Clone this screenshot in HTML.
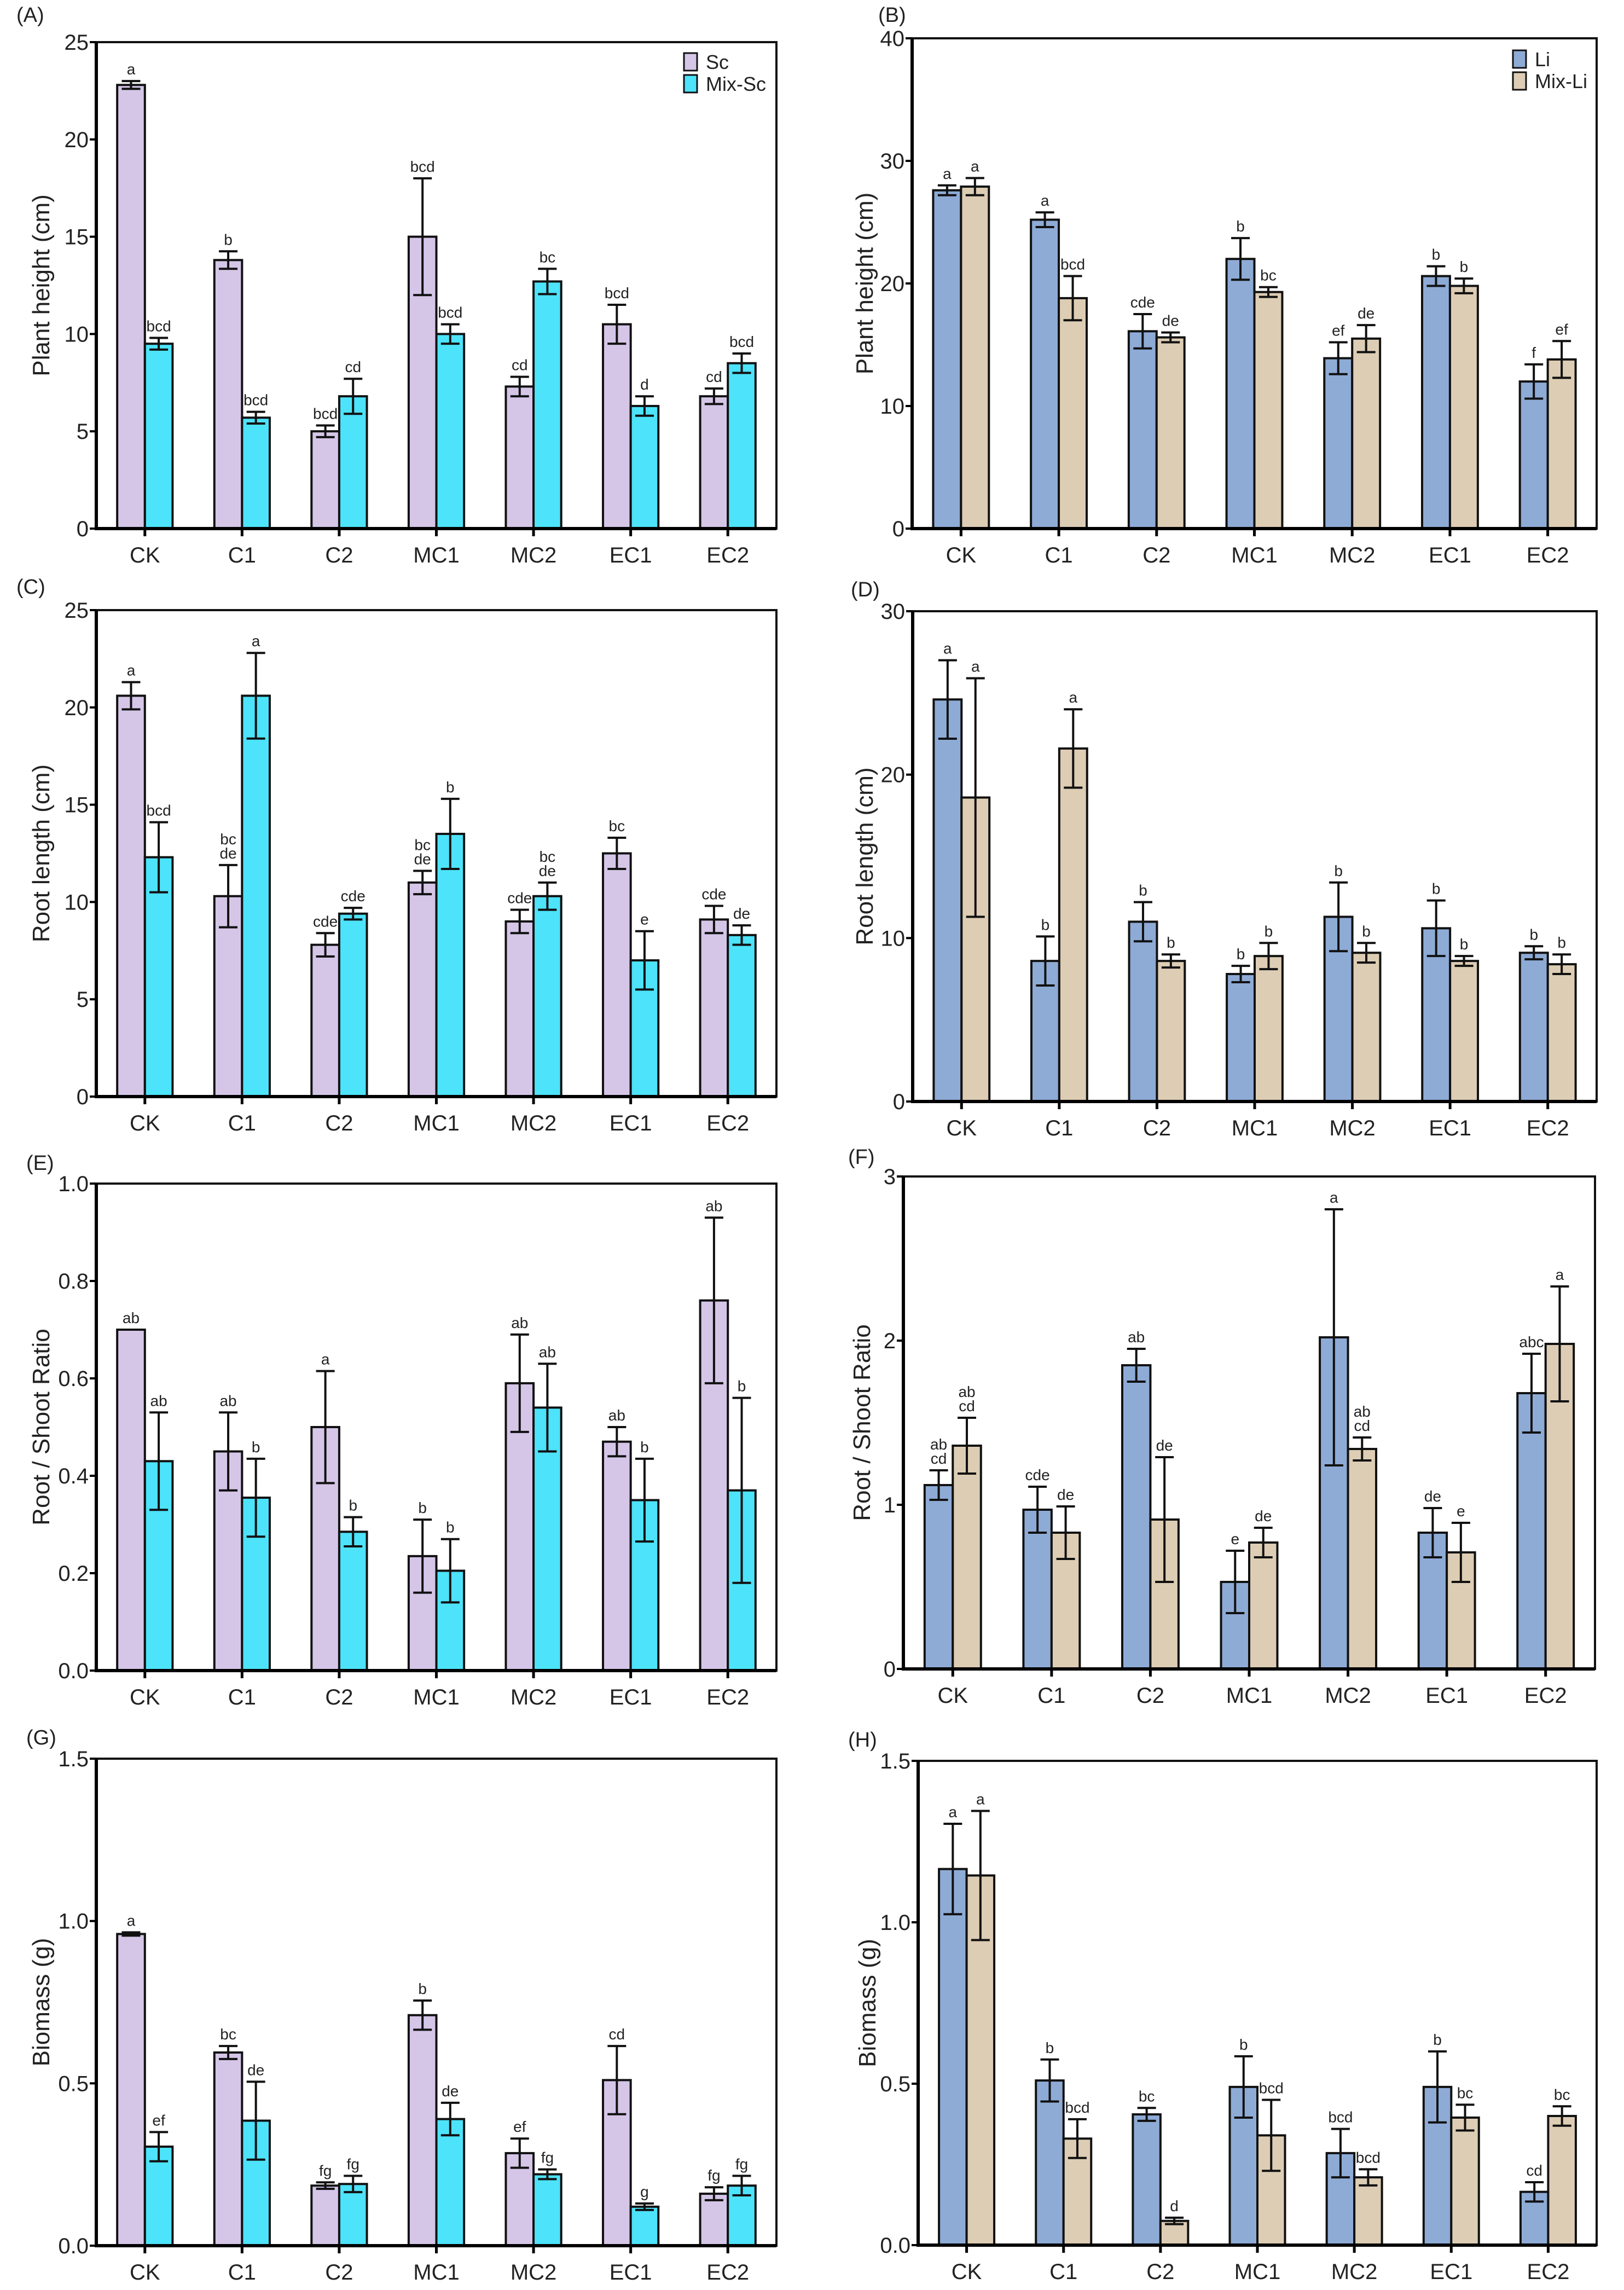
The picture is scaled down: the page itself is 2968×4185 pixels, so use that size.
<!DOCTYPE html>
<html><head><meta charset="utf-8">
<style>
html,body{margin:0;padding:0;background:#fff;}
svg{display:block;font-family:"Liberation Sans",Arial,sans-serif;}
</style></head>
<body>
<svg id="fig" width="2968" height="4185" viewBox="0 0 2968 4185" xmlns="http://www.w3.org/2000/svg"></svg>
<script>
const categories = ["CK","C1","C2","MC1","MC2","EC1","EC2"];

// (A) plant height Sc
const aSc = [22.8,13.8,5.0,15.0,7.3,10.5,6.8];
const aScErr = [0.2,0.45,0.3,3.0,0.5,1.0,0.4];
const aScLet = ["a","b","bcd","bcd","cd","bcd","cd"];
const aMix = [9.5,5.7,6.8,10.0,12.7,6.3,8.5];
const aMixErr = [0.3,0.3,0.9,0.5,0.65,0.5,0.5];
const aMixLet = ["bcd","bcd","cd","bcd","bc","d","bcd"];
const aTicks = [0,5,10,15,20,25];

// (B) plant height Li
const bLi = [27.6,25.2,16.1,22.0,13.9,20.6,12.0];
const bLiErr = [0.4,0.6,1.4,1.7,1.3,0.8,1.4];
const bLiLet = ["a","a","cde","b","ef","b","f"];
const bMix = [27.9,18.8,15.6,19.3,15.5,19.8,13.8];
const bMixErr = [0.7,1.8,0.4,0.4,1.1,0.6,1.5];
const bMixLet = ["a","bcd","de","bc","de","b","ef"];
const bTicks = [0,10,20,30,40];

// (C) root length Sc
const cSc = [20.6,10.3,7.8,11.0,9.0,12.5,9.1];
const cScErr = [0.7,1.6,0.6,0.6,0.6,0.8,0.7];
const cScLet = ["a","bc|de","cde","bc|de","cde","bc","cde"];
const cMix = [12.3,20.6,9.4,13.5,10.3,7.0,8.3];
const cMixErr = [1.8,2.2,0.3,1.8,0.7,1.5,0.5];
const cMixLet = ["bcd","a","cde","b","bc|de","e","de"];
const cTicks = [0,5,10,15,20,25];

// (D) root length Li
const dLi = [24.6,8.6,11.0,7.8,11.3,10.6,9.1];
const dLiErr = [2.4,1.5,1.2,0.5,2.1,1.7,0.4];
const dLiLet = ["a","b","b","b","b","b","b"];
const dMix = [18.6,21.6,8.6,8.9,9.1,8.6,8.4];
const dMixErr = [7.3,2.4,0.4,0.8,0.6,0.3,0.6];
const dMixLet = ["a","a","b","b","b","b","b"];
const dTicks = [0,10,20,30];

// (E) root/shoot Sc
const eSc = [0.70,0.45,0.50,0.235,0.59,0.47,0.76];
const eScErr = [0.0,0.08,0.115,0.075,0.10,0.03,0.17];
const eScLet = ["ab","ab","a","b","ab","ab","ab"];
const eMix = [0.43,0.355,0.285,0.205,0.54,0.35,0.37];
const eMixErr = [0.10,0.08,0.03,0.065,0.09,0.085,0.19];
const eMixLet = ["ab","b","b","b","ab","b","b"];
const eTicks = [0,0.2,0.4,0.6,0.8,1.0];

// (F) root/shoot Li
const fLi = [1.12,0.97,1.85,0.53,2.02,0.83,1.68];
const fLiErr = [0.09,0.14,0.10,0.19,0.78,0.15,0.24];
const fLiLet = ["ab|cd","cde","ab","e","a","de","abc"];
const fMix = [1.36,0.83,0.91,0.77,1.34,0.71,1.98];
const fMixErr = [0.17,0.16,0.38,0.09,0.07,0.18,0.35];
const fMixLet = ["ab|cd","de","de","de","ab|cd","e","a"];
const fTicks = [0,1,2,3];

// (G) biomass Sc
const gSc = [0.96,0.595,0.185,0.71,0.285,0.51,0.16];
const gScErr = [0.005,0.02,0.01,0.045,0.045,0.105,0.02];
const gScLet = ["a","bc","fg","b","ef","cd","fg"];
const gMix = [0.305,0.385,0.19,0.39,0.22,0.12,0.185];
const gMixErr = [0.045,0.12,0.025,0.05,0.015,0.01,0.03];
const gMixLet = ["ef","de","fg","de","fg","g","fg"];
const gTicks = [0,0.5,1.0,1.5];

// (H) biomass Li
const hLi = [1.165,0.51,0.405,0.49,0.285,0.49,0.165];
const hLiErr = [0.14,0.065,0.02,0.095,0.075,0.11,0.03];
const hLiLet = ["a","b","bc","b","bcd","b","cd"];
const hMix = [1.145,0.33,0.075,0.34,0.21,0.395,0.40];
const hMixErr = [0.2,0.06,0.01,0.11,0.025,0.04,0.03];
const hMixLet = ["a","bcd","d","bcd","bcd","bc","bc"];
const hTicks = [0,0.5,1.0,1.5];

const NS = "http://www.w3.org/2000/svg";
const svg = document.getElementById("fig");
function mk(tag, attrs, parent){
  const e = document.createElementNS(NS, tag);
  for (const k in attrs) e.setAttribute(k, attrs[k]);
  (parent||svg).appendChild(e);
  return e;
}
const SC1="#d5c6e8", SC2="#4de3fa", LI1="#8eabd6", LI2="#ddcdb4";

function panel(cfg){
  const g = mk("g",{});
  
  
  const {x0,y0,x1,y1,max} = cfg;
  const ys = v => y1 - v/max*(y1-y0);
  const band = (x1-x0)/categories.length;
  const xc = i => x0 + (i+0.5)*band;
  const bw = band*0.285;

  const lab = mk("text",{x:cfg.lx,y:cfg.ly,"font-size":38,fill:"#222"},g);
  lab.textContent = "(" + cfg.id + ")";
  
  

  // bars
  const series = [[cfg.v1,cfg.e1,cfg.l1,cfg.c1,-1],[cfg.v2,cfg.e2,cfg.l2,cfg.c2,0]];
  series.forEach((s,si)=>{
    s[0].forEach((v,i)=>{
      const bx = xc(i) + s[4]*bw;
      const r = mk("rect",{x:bx,y:ys(v),width:bw,height:y1-ys(v),fill:s[3],stroke:"#111","stroke-width":4},g);
      
      
      const cx = bx + bw/2;
      const top = ys(v + s[1][i]), bot = ys(Math.max(0, v - s[1][i]));
      const eb = mk("path",{d:`M${cx},${top}V${bot}M${cx-17},${top}H${cx+17}M${cx-17},${bot}H${cx+17}`,stroke:"#111","stroke-width":4,fill:"none"},g);
      
      
      const lines = s[2][i].split("|");
      lines.forEach((ln,k)=>{
        const t = mk("text",{x:cx,y:top-12-(lines.length-1-k)*26,"font-size":28,"text-anchor":"middle",fill:"#222"},g);
        t.textContent = ln;
        
        
      });
    });
  });

  // frame
  const fr = mk("rect",{x:x0,y:y0,width:x1-x0,height:y1-y0,fill:"none",stroke:"#111","stroke-width":4},g);
  
  
  const ax = mk("path",{d:`M${x0},${y0}V${y1}H${x1}`,stroke:"#000","stroke-width":6,fill:"none"},g);
  
  

  // y ticks
  cfg.ticks.forEach(t=>{
    const y = ys(t);
    mk("line",{x1:x0-12,x2:x0,y1:y,y2:y,stroke:"#000","stroke-width":4},g);
    const tl = mk("text",{x:x0-14,y:y+14,"font-size":40,"text-anchor":"end",fill:"#222"},g);
    tl.textContent = cfg.dec ? t.toFixed(cfg.dec) : String(t);
    
    
  });
  // x ticks
  categories.forEach((c,i)=>{
    mk("line",{x1:xc(i),x2:xc(i),y1:y1,y2:y1+14,stroke:"#000","stroke-width":5},g);
    const tl = mk("text",{x:xc(i),y:y1+62,"font-size":40,"text-anchor":"middle",fill:"#222"},g);
    tl.textContent = c;
    
    
  });
  // y title
  const yt = mk("text",{x:cfg.tx,y:(y0+y1)/2,"font-size":44,"text-anchor":"middle",fill:"#222",transform:`rotate(-90 ${cfg.tx} ${(y0+y1)/2})`},g);
  yt.textContent = cfg.title;
  
  

  // legend
  if (cfg.legend){
    const [lx,ly,n1,n2] = cfg.legend;
    [[n1,cfg.c1],[n2,cfg.c2]].forEach((l,k)=>{
      const r = mk("rect",{x:lx,y:ly+k*40-16,width:24,height:32,fill:l[1],stroke:"#111","stroke-width":3},g);
      
      
      const t = mk("text",{x:lx+40,y:ly+k*40+13,"font-size":36,fill:"#222"},g);
      t.textContent = l[0];
      
      
    });
  }
}

panel({id:"A",x0:176,y0:77,x1:1419,y1:966,max:25,ticks:aTicks,v1:aSc,e1:aScErr,l1:aScLet,v2:aMix,e2:aMixErr,l2:aMixLet,c1:SC1,c2:SC2,title:"Plant height (cm)",tx:90,lx:30,ly:40,legend:[1250,113,"Sc","Mix-Sc"]});
panel({id:"B",x0:1667,y0:70,x1:2918,y1:966,max:40,ticks:bTicks,v1:bLi,e1:bLiErr,l1:bLiLet,v2:bMix,e2:bMixErr,l2:bMixLet,c1:LI1,c2:LI2,title:"Plant height (cm)",tx:1595,lx:1605,ly:40,legend:[2765,108,"Li","Mix-Li"]});
panel({id:"C",x0:176,y0:1115,x1:1419,y1:2004,max:25,ticks:cTicks,v1:cSc,e1:cScErr,l1:cScLet,v2:cMix,e2:cMixErr,l2:cMixLet,c1:SC1,c2:SC2,title:"Root length (cm)",tx:90,lx:30,ly:1085});
panel({id:"D",x0:1668,y0:1117,x1:2918,y1:2013,max:30,ticks:dTicks,v1:dLi,e1:dLiErr,l1:dLiLet,v2:dMix,e2:dMixErr,l2:dMixLet,c1:LI1,c2:LI2,title:"Root length (cm)",tx:1595,lx:1555,ly:1090});
panel({id:"E",x0:176,y0:2163,x1:1419,y1:3053,max:1.0,dec:1,ticks:eTicks,v1:eSc,e1:eScErr,l1:eScLet,v2:eMix,e2:eMixErr,l2:eMixLet,c1:SC1,c2:SC2,title:"Root / Shoot Ratio",tx:90,lx:48,ly:2138});
panel({id:"F",x0:1651,y0:2150,x1:2915,y1:3050,max:3,ticks:fTicks,v1:fLi,e1:fLiErr,l1:fLiLet,v2:fMix,e2:fMixErr,l2:fMixLet,c1:LI1,c2:LI2,title:"Root / Shoot Ratio",tx:1590,lx:1550,ly:2127});
panel({id:"G",x0:176,y0:3214,x1:1419,y1:4104,max:1.5,dec:1,ticks:gTicks,v1:gSc,e1:gScErr,l1:gScLet,v2:gMix,e2:gMixErr,l2:gMixLet,c1:SC1,c2:SC2,title:"Biomass (g)",tx:90,lx:48,ly:3188});
panel({id:"H",x0:1678,y0:3218,x1:2918,y1:4103,max:1.5,dec:1,ticks:hTicks,v1:hLi,e1:hLiErr,l1:hLiLet,v2:hMix,e2:hMixErr,l2:hMixLet,c1:LI1,c2:LI2,title:"Biomass (g)",tx:1600,lx:1550,ly:3192});
</script>
</body></html>
